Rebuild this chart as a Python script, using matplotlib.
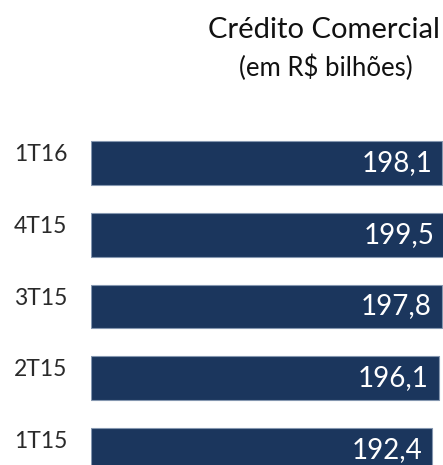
import matplotlib
matplotlib.use("Agg")
import matplotlib.pyplot as plt

# Crédito Comercial (em R$ bilhões)
categories = ["1T15", "2T15", "3T15", "4T15", "1T16"]
values = [192.4, 196.1, 197.8, 199.5, 198.1]
value_labels = ["192,4", "196,1", "197,8", "199,5", "198,1"]

W, H = 443, 465
plt.rcParams["font.family"] = ["Lato", "DejaVu Sans"]

fig = plt.figure(figsize=(W / 100, H / 100), dpi=100)

# axes in pixel coords: x 91..443, y from image 120 down to 465
ax = fig.add_axes([91 / W, 0, (W - 91) / W, (465 - 120) / H])
ypos = list(range(len(categories)))
ax.barh(ypos, values, height=0.61, color="#1b365d",
        edgecolor="#8597b0", linewidth=0.8)
ax.set_xlim(0, 198.6)
ax.set_ylim(-0.209, 4.599)
ax.axis("off")

for y, v, lab, cat in zip(ypos, values, value_labels, categories):
    ax.annotate(lab, (v, y), xytext=(-7, 0), textcoords="offset points",
                ha="right", va="center", color="white", fontsize=20,
                annotation_clip=False)
    ax.annotate(cat, (0, y), xytext=(-17, 6), textcoords="offset points",
                ha="right", va="center", color="#2a2a2a", fontsize=16.5,
                annotation_clip=False)

fig.text(324 / W, 1 - 30 / H, "Crédito Comercial", ha="center", va="center",
         fontsize=21, color="#111111")
fig.text(326 / W, 1 - 68 / H, "(em R$ bilhões)", ha="center", va="center",
         fontsize=18.5, color="#111111")

fig.savefig("out.png", dpi=100)
